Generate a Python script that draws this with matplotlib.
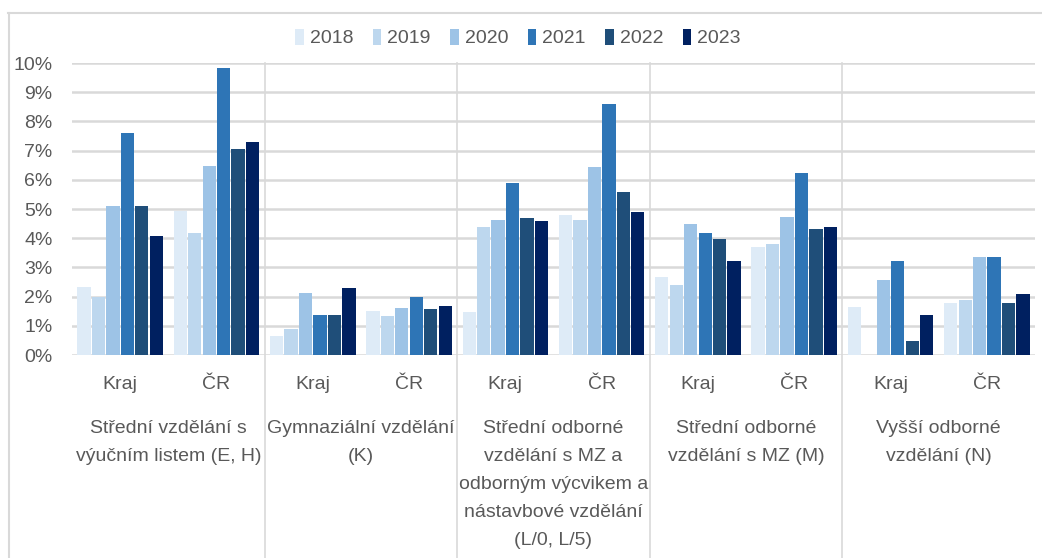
import numpy as np
import matplotlib
matplotlib.use("Agg")
import matplotlib.pyplot as plt
from matplotlib.lines import Line2D
from matplotlib.transforms import blended_transform_factory

plt.rcParams['font.family'] = ['Liberation Sans', 'DejaVu Sans']

# Data (share, %)
years = ['2018', '2019', '2020', '2021', '2022', '2023']
colors = ['#DEEBF7', '#BDD7EE', '#9DC3E6', '#2E75B6', '#1F4E79', '#002060']
sub_labels = ['Kraj', 'ČR'] * 5
group_labels = [
    'Střední vzdělání s\nvýučním listem (E, H)',
    'Gymnaziální vzdělání\n(K)',
    'Střední odborné\nvzdělání s MZ a\nodborným výcvikem a\nnástavbové vzdělání\n(L/0, L/5)',
    'Střední odborné\nvzdělání s MZ (M)',
    'Vyšší odborné\nvzdělání (N)',
]

# one list per year, order: EH Kraj, EH ČR, K Kraj, K ČR, L Kraj, L ČR, M Kraj, M ČR, N Kraj, N ČR
v2018 = [2.34, 4.94, 0.65, 1.52, 1.48, 4.78, 2.68, 3.71, 1.65, 1.77]
v2019 = [1.97, 4.18, 0.88, 1.33, 4.39, 4.64, 2.41, 3.80, np.nan, 1.90]
v2020 = [5.10, 6.46, 2.11, 1.60, 4.62, 6.44, 4.50, 4.71, 2.57, 3.36]
v2021 = [7.60, 9.84, 1.37, 2.00, 5.90, 8.61, 4.18, 6.25, 3.22, 3.36]
v2022 = [5.10, 7.05, 1.37, 1.58, 4.70, 5.58, 3.96, 4.33, 0.47, 1.77]
v2023 = [4.07, 7.29, 2.28, 1.68, 4.58, 4.89, 3.22, 4.39, 1.37, 2.09]
series = [v2018, v2019, v2020, v2021, v2022, v2023]

W, H = 1042, 558
fig = plt.figure(figsize=(W / 100, H / 100), dpi=100)
ax = fig.add_axes([72 / W, 1 - 355 / H, (1035 - 72) / W, (355 - 63) / H])

txt = '#595959'
grid = '#D9D9D9'

x = np.arange(len(sub_labels))
step = 0.15
for i, (yr, vals, c) in enumerate(zip(years, series, colors)):
    ax.bar(x + (i - 2.5) * step, np.array(vals) / 100, width=0.138, color=c, label=yr, zorder=3)

ax.set_xlim(-0.5, len(sub_labels) - 0.5)
ax.set_ylim(0, 0.10)
ax.set_yticks(np.arange(0, 0.101, 0.01))
ax.set_yticklabels([f'{int(round(t * 100))}%' for t in np.arange(0, 0.101, 0.01)])
ax.set_xticks(x)
ax.set_xticklabels(sub_labels)
ax.tick_params(axis='both', length=0, labelsize=14, colors=txt)
ax.tick_params(axis='x', pad=15)
ax.tick_params(axis='y', pad=14)
for s in ax.spines.values():
    s.set_visible(False)
ax.yaxis.grid(True, color=grid, linewidth=1.8, zorder=0)
ax.set_axisbelow(True)

# group labels and separators
tr = blended_transform_factory(ax.transData, fig.transFigure)
for g, lab in enumerate(group_labels):
    ax.text(2 * g + 0.5, 1 - 420 / H, lab, transform=tr, ha='center', va='top',
            fontsize=14, color=txt, linespacing=1.85)
for g in range(1, len(group_labels)):
    fig.add_artist(Line2D([2 * g - 0.5] * 2, [1 - 63 / H, 0], transform=tr,
                          color=grid, linewidth=1.2))

# chart frame
fig.add_artist(Line2D([8 / W, 1], [1 - 13 / H] * 2, transform=fig.transFigure, color=grid, linewidth=1.5))
fig.add_artist(Line2D([9 / W] * 2, [1 - 13 / H, 0], transform=fig.transFigure, color=grid, linewidth=1.5))

leg = fig.legend(loc='center', bbox_to_anchor=(518 / W, 1 - 38 / H), ncol=6, frameon=False,
                 fontsize=14, handlelength=0.45, handleheight=0.9, handletextpad=0.3,
                 columnspacing=1.0, labelcolor=txt)

fig.savefig('out.png', dpi=100)
